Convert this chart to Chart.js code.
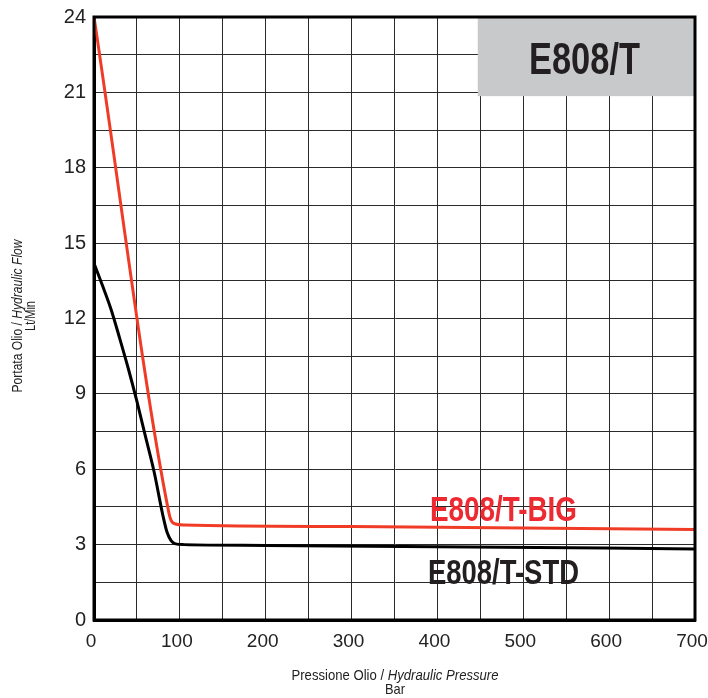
<!DOCTYPE html>
<html>
<head>
<meta charset="utf-8">
<script src="https://cdn.jsdelivr.net/npm/chart.js@4"></script>
<style>
  html, body { margin: 0; padding: 0; background: #fff; }
  #wrap { width: 708px; height: 698px; }
</style>
</head>
<body>
<div id="wrap"><canvas id="chart" width="708" height="698"></canvas></div>
<script>
const bigPressure = [0, 87, 90, 95, 105, 300, 500, 700];
const bigFlow     = [24, 4.3, 3.95, 3.82, 3.78, 3.72, 3.66, 3.6];

const stdPressure = [0, 10, 20, 30, 40, 50, 60, 70, 80, 85, 90, 95, 105, 200, 400, 700];
const stdFlow     = [14.2, 13.3, 12.35, 11.2, 10.0, 8.7, 7.3, 5.9, 4.2, 3.5, 3.15, 3.03, 3.0, 2.97, 2.92, 2.83];

const xTicks = [0, 100, 200, 300, 400, 500, 600, 700];
const yTicks = [0, 3, 6, 9, 12, 15, 18, 21, 24];

const seriesLabels = ["E808/T-BIG", "E808/T-STD"];
const modelName = "E808/T";

const sans = "'Liberation Sans', Arial, sans-serif";

function toPoints(xs, ys) {
    return xs.map((x, i) => ({ x: x, y: ys[i] }));
}

// draw text squeezed horizontally to a given width (fake condensed face)
function squeezed(ctx, text, left, baseline, width, font) {
    ctx.save();
    ctx.font = font;
    ctx.textAlign = "left";
    ctx.textBaseline = "alphabetic";
    const w = ctx.measureText(text).width;
    ctx.translate(left, baseline);
    ctx.scale(width / w, 1);
    ctx.fillText(text, 0, 0);
    ctx.restore();
}

// two-part line (regular + italic), squeezed by the same factor, centred
function mixedLine(ctx, a, b, cx, baseline, width, size) {
    ctx.save();
    ctx.font = size + "px " + sans;
    const w1 = ctx.measureText(a).width;
    ctx.font = "italic " + size + "px " + sans;
    const w2 = ctx.measureText(b).width;
    const k = width / (w1 + w2);
    ctx.translate(cx - width / 2, baseline);
    ctx.scale(k, 1);
    ctx.textAlign = "left";
    ctx.textBaseline = "alphabetic";
    ctx.font = size + "px " + sans;
    ctx.fillText(a, 0, 0);
    ctx.font = "italic " + size + "px " + sans;
    ctx.fillText(b, w1, 0);
    ctx.restore();
}

const extras = {
    id: "extras",
    beforeDatasetsDraw(chart) {
        const { ctx, chartArea: a, scales: { x, y } } = chart;
        const bx = x.getPixelForValue(447);
        const by = y.getPixelForValue(20.85);
        ctx.save();
        ctx.fillStyle = "#c8c9cb";
        ctx.fillRect(bx, a.top, a.right - bx, by - a.top);
        ctx.fillStyle = "#231f20";
        squeezed(ctx, modelName, 529, 74, 111, "bold 44px " + sans);
        ctx.restore();
    },
    afterDatasetsDraw(chart) {
        const { ctx, chartArea: a } = chart;
        ctx.save();
        ctx.strokeStyle = "#000";
        ctx.lineWidth = 3;
        ctx.strokeRect(a.left, a.top, a.right - a.left, a.bottom - a.top);

        ctx.fillStyle = "#ed2a31";
        squeezed(ctx, seriesLabels[0], 430, 521, 147, "bold 35px " + sans);
        ctx.fillStyle = "#231f20";
        squeezed(ctx, seriesLabels[1], 428, 584, 151, "bold 35px " + sans);

        ctx.fillStyle = "#222";
        mixedLine(ctx, "Pressione Olio / ", "Hydraulic Pressure", 395, 680, 207, 15);
        squeezed(ctx, "Bar", 385, 694, 20, "15px " + sans);

        ctx.translate(22, 316);
        ctx.rotate(-Math.PI / 2);
        mixedLine(ctx, "Portata Olio / ", "Hydraulic Flow", 0, 0, 153, 15);
        squeezed(ctx, "Lt/Min", -15, 13, 30, "15px " + sans);
        ctx.restore();
    }
};

new Chart(document.getElementById("chart"), {
    type: "line",
    data: {
        datasets: [{
            label: seriesLabels[0],
            data: toPoints(bigPressure, bigFlow),
            borderColor: "#f03c26",
            borderWidth: 3,
            pointRadius: 0,
            cubicInterpolationMode: "monotone",
            fill: false
        }, {
            label: seriesLabels[1],
            data: toPoints(stdPressure, stdFlow),
            borderColor: "#000",
            borderWidth: 3,
            pointRadius: 0,
            cubicInterpolationMode: "monotone",
            fill: false
        }]
    },
    options: {
        responsive: false,
        animation: false,
        layout: { padding: { top: 17, right: 13, left: 0, bottom: 0 } },
        plugins: {
            legend: { display: false },
            tooltip: { enabled: false }
        },
        scales: {
            x: {
                type: "linear",
                min: 0,
                max: 700,
                afterFit: s => { s.height = 78; s.paddingRight = 13; s.paddingLeft = 0; },
                ticks: {
                    stepSize: 50,
                    autoSkip: false,
                    maxRotation: 0,
                    padding: 10,
                    labelOffset: -3,
                    color: "#222",
                    font: { family: sans, size: 19 },
                    callback: v => xTicks.includes(v) ? String(v) : ""
                },
                grid: { color: "#2a2a2a", lineWidth: 1, drawTicks: false },
                border: { color: "#000", width: 3 }
            },
            y: {
                min: 0,
                max: 24,
                afterFit: s => { s.width = 94; s.paddingTop = 0; },
                ticks: {
                    stepSize: 1.5,
                    autoSkip: false,
                    padding: 8,
                    color: "#222",
                    font: { family: sans, size: 20 },
                    callback: v => yTicks.includes(v) ? String(v) : ""
                },
                grid: { color: "#2a2a2a", lineWidth: 1, drawTicks: false },
                border: { color: "#000", width: 3 }
            }
        }
    },
    plugins: [extras]
});
</script>
</body>
</html>
